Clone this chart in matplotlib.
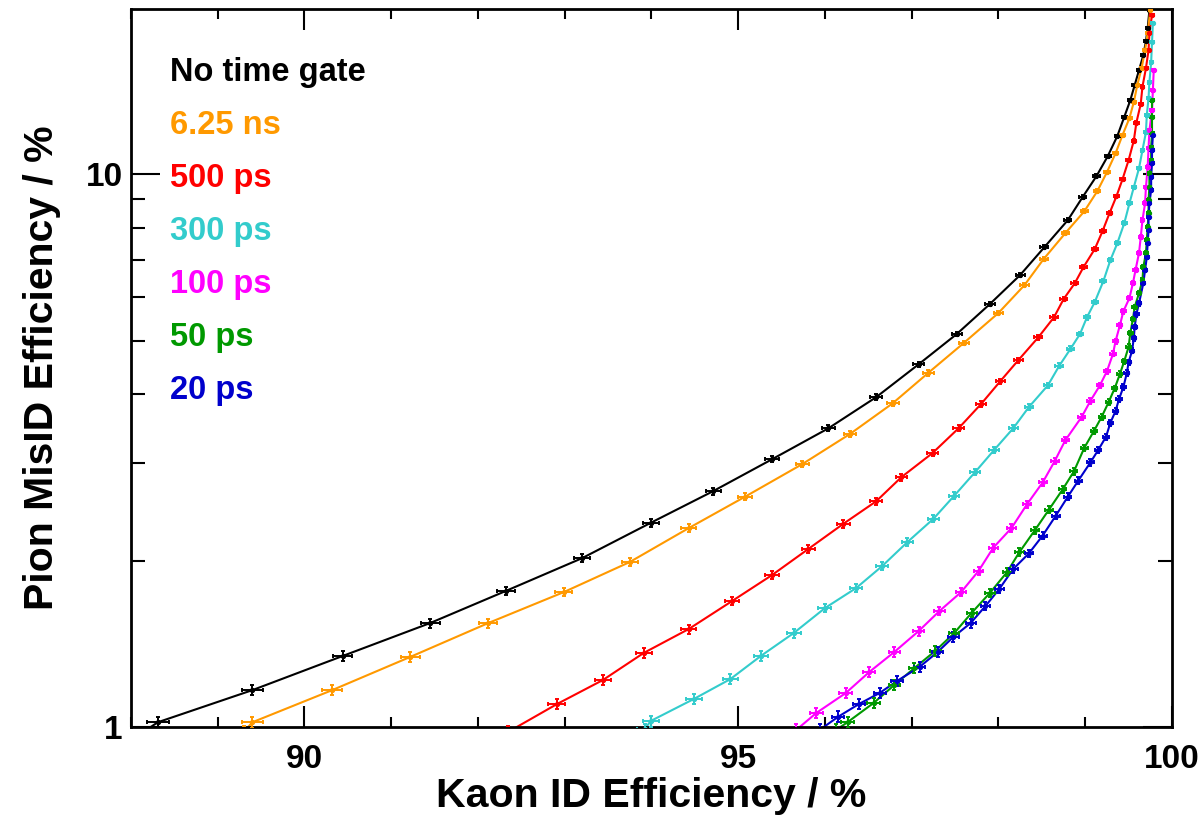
import numpy as np
import matplotlib
matplotlib.use('Agg')
import matplotlib.pyplot as plt
from matplotlib.ticker import FixedLocator, NullFormatter

# ==========================================================
# Data (Kaon ID eff %, Pion MisID eff %)
# ==========================================================
x_nogate = [88.10, 88.31, 89.40, 90.44, 91.45, 92.32, 93.20, 93.99, 94.71, 95.39, 96.04, 96.59,
            97.08, 97.52, 97.90, 98.25, 98.53, 98.80, 98.97, 99.13, 99.26, 99.37, 99.45, 99.52,
            99.57, 99.62, 99.67, 99.70, 99.72, 99.74]
y_nogate = [0.97, 1.02, 1.166, 1.344, 1.542, 1.762, 2.02, 2.34, 2.67, 3.05, 3.47, 3.95,
            4.53, 5.14, 5.82, 6.57, 7.38, 8.26, 9.09, 9.92, 10.78, 11.72, 12.69, 13.61,
            14.49, 15.42, 16.42, 17.4, 18.36, 19.8]

x_625ns = [89.30, 89.40, 90.32, 91.22, 92.12, 92.99, 93.75, 94.43, 95.08, 95.74, 96.29, 96.78,
           97.19, 97.60, 98.00, 98.30, 98.52, 98.77, 98.99, 99.14, 99.25, 99.35, 99.43, 99.51,
           99.56, 99.60, 99.65, 99.69, 99.72, 99.75]
y_625ns = [0.98, 1.02, 1.166, 1.339, 1.542, 1.754, 1.988, 2.29, 2.61, 2.99, 3.39, 3.85,
           4.37, 4.95, 5.61, 6.30, 7.02, 7.82, 8.57, 9.32, 10.08, 10.91, 11.77, 12.63,
           13.5, 14.49, 15.55, 16.76, 17.99, 19.8]

x_500ps = [92.35, 92.91, 93.44, 93.91, 94.43, 94.93, 95.39, 95.81, 96.21, 96.59, 96.88, 97.24,
           97.54, 97.80, 98.02, 98.23, 98.46, 98.64, 98.75, 98.88, 98.98, 99.11, 99.20, 99.28,
           99.36, 99.43, 99.50, 99.56, 99.59, 99.64, 99.66, 99.70, 99.73, 99.74, 99.77]
y_500ps = [0.98, 1.10, 1.216, 1.361, 1.504, 1.69, 1.883, 2.10, 2.33, 2.56, 2.83, 3.13,
           3.47, 3.84, 4.22, 4.61, 5.07, 5.51, 5.94, 6.35, 6.79, 7.32, 7.89, 8.50,
           9.12, 9.79, 10.6, 11.5, 12.4, 13.4, 14.4, 15.55, 16.76, 18.0, 19.4]

x_300ps = [93.92, 93.99, 94.49, 94.91, 95.26, 95.64, 96.00, 96.36, 96.66, 96.95, 97.25, 97.49,
           97.73, 97.95, 98.17, 98.35, 98.57, 98.70, 98.83, 98.94, 99.02, 99.11, 99.21, 99.29,
           99.37, 99.45, 99.51, 99.56, 99.62, 99.66, 99.70, 99.71, 99.73, 99.74, 99.76, 99.77,
           99.78]
y_300ps = [0.99, 1.025, 1.124, 1.221, 1.344, 1.479, 1.641, 1.784, 1.955, 2.16, 2.38, 2.62,
           2.89, 3.17, 3.47, 3.79, 4.15, 4.50, 4.83, 5.14, 5.51, 5.87, 6.41, 6.99,
           7.50, 8.15, 8.86, 9.47, 10.25, 11.05, 11.91, 12.79, 13.72, 14.67, 15.94, 17.33,
           18.75]

x_100ps = [95.67, 95.90, 96.24, 96.51, 96.80, 97.08, 97.32, 97.57, 97.77, 97.94, 98.15, 98.33,
           98.51, 98.65, 98.77, 98.96, 99.06, 99.17, 99.25, 99.32, 99.35, 99.40, 99.44, 99.51,
           99.55, 99.58, 99.62, 99.64, 99.66, 99.69, 99.70, 99.72, 99.73, 99.74, 99.77, 99.78,
           99.79]
y_100ps = [0.988, 1.06, 1.152, 1.257, 1.367, 1.491, 1.621, 1.754, 1.915, 2.11, 2.29, 2.53,
           2.77, 3.03, 3.30, 3.64, 3.89, 4.15, 4.40, 4.73, 4.99, 5.33, 5.65, 5.97,
           6.35, 6.71, 7.20, 7.69, 8.26, 8.86, 9.47, 10.3, 11.14, 12.0, 13.05, 14.19,
           15.42]

x_50ps = [96.13, 96.26, 96.56, 96.80, 97.03, 97.27, 97.49, 97.69, 97.90, 98.10, 98.24, 98.42,
          98.58, 98.74, 98.87, 98.99, 99.10, 99.19, 99.27, 99.34, 99.40, 99.45, 99.50, 99.52,
          99.55, 99.57, 99.62, 99.66, 99.67, 99.70, 99.71, 99.72, 99.73, 99.73, 99.74, 99.74,
          99.76, 99.76, 99.77, 99.77, 99.77]
y_50ps = [0.988, 1.02, 1.105, 1.191, 1.278, 1.372, 1.479, 1.608, 1.747, 1.907, 2.07, 2.27,
          2.47, 2.69, 2.90, 3.20, 3.43, 3.64, 3.87, 4.10, 4.35, 4.59, 4.87, 5.16,
          5.47, 5.75, 6.09, 6.43, 6.79, 7.20, 7.60, 8.02, 8.50, 8.98, 9.47, 10.04,
          10.6, 11.19, 11.86, 12.69, 13.61]

x_20ps = [95.94, 96.15, 96.39, 96.63, 96.83, 97.09, 97.30, 97.48, 97.68, 97.85, 98.01, 98.17,
          98.35, 98.51, 98.66, 98.80, 98.92, 99.06, 99.15, 99.24, 99.29, 99.35, 99.39, 99.44,
          99.48, 99.50, 99.54, 99.56, 99.57, 99.59, 99.62, 99.67, 99.69, 99.71, 99.72, 99.73,
          99.73, 99.74, 99.76, 99.76, 99.77, 99.77, 99.78]
y_20ps = [0.988, 1.043, 1.10, 1.152, 1.211, 1.284, 1.367, 1.455, 1.542, 1.655, 1.777, 1.931,
          2.06, 2.22, 2.41, 2.61, 2.79, 3.01, 3.17, 3.35, 3.55, 3.73, 3.92, 4.12,
          4.37, 4.57, 4.79, 5.05, 5.29, 5.58, 5.84, 6.35, 6.71, 7.08, 7.50, 7.92,
          8.36, 8.86, 9.36, 9.88, 10.47, 11.05, 11.77]

labels = ["No time gate", "6.25 ns", "500 ps", "300 ps", "100 ps", "50 ps", "20 ps"]
cores = ["#000000", "#ff9900", "#ff0000", "#33cccc", "#ff00ff", "#009900", "#0000cc"]

# sample sizes used for the binomial error bars
N_KAON = 68000
N_PIAO = 185000

series = [(x_nogate, y_nogate), (x_625ns, y_625ns), (x_500ps, y_500ps), (x_300ps, y_300ps),
          (x_100ps, y_100ps), (x_50ps, y_50ps), (x_20ps, y_20ps)]

# ==========================================================
# Plot
# ==========================================================
plt.rcParams['font.family'] = ['Liberation Sans', 'DejaVu Sans']
plt.rcParams['font.weight'] = 'bold'

fig = plt.figure(figsize=(12.03, 8.16), dpi=100)
ax = fig.add_axes([0.1089, 0.1091, 0.8653, 0.8799])

for (xs, ys), cor in zip(series, cores):
    xs = np.array(xs)
    ys = np.array(ys)
    ex = 100 * np.sqrt(xs / 100 * (1 - xs / 100) / N_KAON)
    ey = 100 * np.sqrt(ys / 100 * (1 - ys / 100) / N_PIAO)
    ax.plot(xs, ys, '-', color=cor, lw=1.5, zorder=2)
    ax.errorbar(xs, ys, xerr=ex, yerr=ey, fmt='o', color=cor, ms=2.8, elinewidth=1.4,
                capsize=1.5, capthick=1.4, zorder=3)

ax.set_yscale('log')
ax.set_xlim(88, 100)
ax.set_ylim(1, 19.9)

ax.xaxis.set_major_locator(FixedLocator([90, 95, 100]))
ax.xaxis.set_minor_locator(FixedLocator([88, 89, 91, 92, 93, 94, 96, 97, 98, 99]))
ax.yaxis.set_major_locator(FixedLocator([1, 10]))
ax.yaxis.set_minor_locator(FixedLocator([2, 3, 4, 5, 6, 7, 8, 9]))
ax.yaxis.set_minor_formatter(NullFormatter())
ax.set_xticklabels(["90", "95", "100"])
ax.set_yticklabels(["1", "10"])

ax.tick_params(which='both', direction='in', top=True, right=True, width=1.5,
               labelsize=24, color='black')
ax.tick_params(axis='x', which='major', length=15, pad=12)
ax.tick_params(axis='x', which='minor', length=7)
ax.tick_params(axis='y', which='major', length=21, pad=6)
ax.tick_params(axis='y', which='minor', length=10)
for s in ax.spines.values():
    s.set_linewidth(2)

ax.set_xlabel("Kaon ID Efficiency / %", fontsize=29.5, fontweight='bold', labelpad=2)
ax.set_ylabel("Pion MisID Efficiency / %", fontsize=29.5, fontweight='bold', labelpad=18)

# legenda em texto colorido
for i, (lab, cor) in enumerate(zip(labels, cores)):
    ax.text(0.0375, 0.912 - i * 0.0738, lab, color=cor, fontsize=23.5, fontweight='bold',
            transform=ax.transAxes, va='center', ha='left')

fig.savefig('out.png', dpi=100)
